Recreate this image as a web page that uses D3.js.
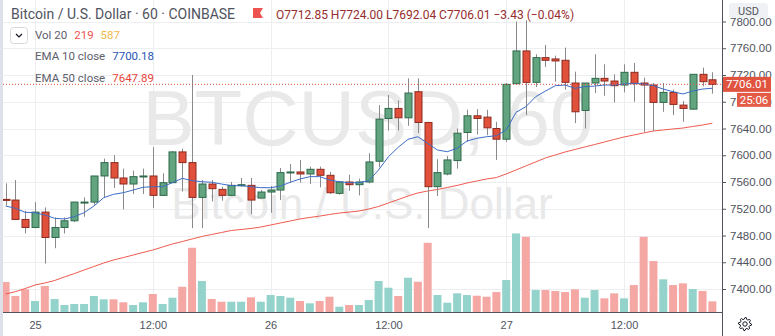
<!DOCTYPE html>
<html>
<head>
<meta charset="utf-8">
<script src="https://cdn.jsdelivr.net/npm/d3@7"></script>
<style>
  body { margin: 0; background: #fff; }
  svg { display: block; font-family: Roboto, "Liberation Sans", sans-serif; }
</style>
</head>
<body>
<svg id="chart" width="775" height="336"></svg>
<script>
// BTCUSD 60 min candles, Coinbase — 24 Nov 21:00 .. 27 Nov 21:00 (UTC)
const firstCandle = Date.UTC(2019, 10, 24, 21);

const open = [7534, 7533, 7504, 7492, 7515, 7477, 7492, 7502, 7529, 7530,
  7569, 7589, 7566, 7557, 7568, 7569, 7540, 7559, 7605, 7589,
  7537, 7557, 7549, 7540, 7555, 7555, 7536, 7545, 7548, 7574,
  7575, 7572, 7579, 7570, 7543, 7560, 7556, 7560, 7591, 7655,
  7670, 7656, 7695, 7649, 7553, 7572, 7592, 7634, 7659, 7657,
  7640, 7624, 7707, 7756, 7709, 7746, 7744, 7742, 7708, 7667,
  7708, 7715, 7711, 7705, 7724, 7708, 7705, 7679, 7694, 7675,
  7669, 7721, 7712.85];
const high = [7558, 7563, 7517, 7530, 7522, 7507, 7507, 7530, 7537, 7569,
  7595, 7600, 7580, 7577, 7580, 7612, 7573, 7606, 7610, 7720,
  7563, 7563, 7553, 7560, 7566, 7566, 7548, 7554, 7581, 7587,
  7593, 7583, 7583, 7575, 7561, 7571, 7565, 7603, 7675, 7690,
  7682, 7715, 7715, 7650, 7594, 7599, 7640, 7668, 7669, 7668,
  7650, 7708, 7800, 7802, 7751, 7765, 7749, 7761, 7725, 7708,
  7751, 7736, 7721, 7736, 7738, 7716, 7708, 7708, 7698, 7681,
  7721, 7731, 7724];
const low = [7525, 7503, 7483, 7491, 7438, 7461, 7483, 7500, 7508, 7526,
  7537, 7551, 7519, 7542, 7542, 7521, 7539, 7559, 7546, 7491,
  7491, 7531, 7532, 7539, 7553, 7512, 7536, 7514, 7533, 7559,
  7559, 7557, 7552, 7542, 7541, 7547, 7540, 7558, 7582, 7637,
  7637, 7644, 7633, 7491, 7539, 7570, 7580, 7620, 7631, 7630,
  7593, 7620, 7706, 7660, 7702, 7732, 7710, 7698, 7648, 7640,
  7693, 7689, 7679, 7694, 7680, 7635, 7636, 7665, 7660, 7650,
  7668, 7703, 7692.04];
const close = [7533, 7504, 7492, 7515, 7477, 7492, 7502, 7530, 7530, 7569,
  7589, 7566, 7557, 7568, 7569, 7540, 7559, 7605, 7589, 7537,
  7557, 7550, 7540, 7555, 7556, 7533, 7545, 7548, 7574, 7575,
  7572, 7579, 7570, 7544, 7560, 7556, 7560, 7590, 7654, 7670,
  7656, 7693, 7649, 7553, 7574, 7593, 7633, 7659, 7655, 7641,
  7624, 7706, 7756, 7709, 7746, 7742, 7741, 7709, 7665, 7708,
  7715, 7711, 7704, 7724, 7707, 7705, 7679, 7694, 7676, 7670,
  7721, 7710, 7706.01];
const volume = [618, 330, 468, 227, 536, 268, 144, 165, 165, 330,
  262, 262, 200, 144, 200, 371, 165, 295, 521, 1325,
  639, 268, 212, 212, 212, 303, 212, 350, 330, 295,
  227, 179, 227, 315, 109, 144, 144, 247, 639, 501,
  330, 707, 624, 1428, 350, 192, 385, 350, 336, 315,
  412, 659, 1621, 1551, 453, 453, 433, 412, 468, 295,
  453, 282, 385, 282, 556, 1551, 1051, 674, 556, 591,
  474, 433, 219];
const ema10 = [7524.1, 7520.7, 7514.7, 7514.1, 7510.7, 7505.7, 7504.7, 7508.1, 7514.1, 7524.1,
  7536.5, 7541.6, 7544.0, 7548.0, 7552.1, 7553.0, 7553.0, 7559.0, 7565.5, 7562.0,
  7560.4, 7559.6, 7557.0, 7554.5, 7554.5, 7553.0, 7551.5, 7551.5, 7554.0, 7559.6,
  7564.5, 7568.0, 7568.0, 7563.0, 7560.4, 7559.0, 7559.0, 7562.0, 7578.0, 7597.8,
  7611.9, 7623.9, 7627.7, 7617.9, 7607.8, 7605.3, 7610.4, 7621.3, 7625.3, 7627.7,
  7629.2, 7637.8, 7664.2, 7672.6, 7687.5, 7696.0, 7704.0, 7705.0, 7700.1, 7702.5,
  7703.5, 7705.0, 7705.0, 7706.5, 7707.6, 7706.5, 7704.0, 7699.0, 7695.0, 7691.6,
  7696.0, 7699.0, 7700.18];
const ema50 = [7392.5, 7396.0, 7400.7, 7406.0, 7409.0, 7412.7, 7418.0, 7423.0, 7428.4, 7433.6,
  7438.9, 7443.4, 7447.0, 7450.8, 7454.6, 7458.3, 7462.8, 7467.3, 7471.0, 7474.8,
  7478.5, 7481.5, 7484.5, 7487.5, 7489.0, 7490.5, 7492.7, 7495.7, 7498.7, 7501.7,
  7504.7, 7507.0, 7509.0, 7511.4, 7513.6, 7515.0, 7516.6, 7519.6, 7523.4, 7528.6,
  7533.8, 7539.0, 7543.6, 7546.5, 7548.8, 7551.8, 7554.8, 7558.5, 7561.5, 7564.5,
  7566.7, 7572.0, 7578.0, 7584.0, 7590.0, 7596.0, 7600.4, 7604.9, 7608.6, 7612.3,
  7616.0, 7619.8, 7623.6, 7627.3, 7630.3, 7633.3, 7636.3, 7637.8, 7639.3, 7640.7,
  7643.0, 7645.2, 7647.89];

const priceTicks = [7400, 7440, 7480, 7520, 7560, 7600, 7640, 7680, 7720, 7760, 7800];
const lastPrice = 7706.01;
const countdown = "25:06";
const volLast = 219, volMa = 587;

const candles = open.map((o, i) => ({
  t: new Date(firstCandle + i * 3600e3),
  o, h: high[i], l: low[i], c: close[i], v: volume[i],
  e10: ema10[i], e50: ema50[i],
  up: close[i] >= open[i]
}));

const plotW = 722, plotH = 312;
const svg = d3.select("#chart");

const x = d3.scaleUtc()
  .domain([Date.UTC(2019, 10, 25, 0), Date.UTC(2019, 10, 27, 12)])
  .range([35, 624]);
const y = d3.scaleLinear().domain([7400, 7800]).range([289, 21.5]);
const yVol = d3.scaleLinear().domain([0, 1650]).range([plotH, 232]);

const timeTicks = x.ticks(d3.utcHour.every(12)).filter(d => x(d) > 0 && x(d) < plotW);

svg.append("defs").append("clipPath").attr("id", "plot")
  .append("rect").attr("width", plotW).attr("height", plotH);

// grid
const grid = svg.append("g").attr("stroke", "#eceef2").attr("stroke-width", 1);
grid.selectAll(".h").data(priceTicks).join("line")
  .attr("x1", 0).attr("x2", plotW)
  .attr("y1", d => Math.round(y(d)) + 0.5).attr("y2", d => Math.round(y(d)) + 0.5);
grid.selectAll(".v").data(timeTicks).join("line")
  .attr("y1", 0).attr("y2", plotH)
  .attr("x1", d => Math.round(x(d)) + 0.5).attr("x2", d => Math.round(x(d)) + 0.5);

// watermark
const wm = svg.append("g").attr("fill", "#e9e9ea")
  .attr("font-family", "'Liberation Sans', Arial, sans-serif").attr("text-anchor", "middle");
wm.append("text").attr("x", 368).attr("y", 145).attr("font-size", 78).text("BTCUSD, 60");
wm.append("text").attr("x", 362).attr("y", 219).attr("font-size", 44).text("Bitcoin / U.S. Dollar");

const plot = svg.append("g").attr("clip-path", "url(#plot)");

// volume
plot.append("g").selectAll("rect").data(candles).join("rect")
  .attr("x", d => x(d.t) - 4).attr("width", 8)
  .attr("y", d => yVol(d.v)).attr("height", d => plotH - yVol(d.v))
  .attr("fill", d => d.up ? "#93d3cb" : "#f5a7a4");

// EMAs
const line = key => d3.line().x(d => x(d.t)).y(d => y(d[key]));
plot.append("path").datum(candles).attr("fill", "none")
  .attr("stroke", "#ef5a4f").attr("stroke-width", 1).attr("d", line("e50"));

// candles
const cg = plot.append("g").selectAll("g").data(candles).join("g");
cg.append("line")
  .attr("x1", d => Math.round(x(d.t)) + 0.5).attr("x2", d => Math.round(x(d.t)) + 0.5)
  .attr("y1", d => y(d.h)).attr("y2", d => y(d.l))
  .attr("stroke", "#8a8a8c");
cg.append("rect")
  .attr("x", d => Math.round(x(d.t)) - 3).attr("width", 7)
  .attr("y", d => y(Math.max(d.o, d.c)))
  .attr("height", d => Math.max(1, Math.abs(y(d.o) - y(d.c))))
  .attr("fill", d => d.up ? "#62a47f" : "#e0503b")
  .attr("stroke", d => d.up ? "#2e6a4b" : "#8e2b20").attr("stroke-width", 1);

plot.append("path").datum(candles).attr("fill", "none")
  .attr("stroke", "#3d6cc6").attr("stroke-width", 1).attr("d", line("e10"));

// last price line
plot.append("line").attr("x1", 0).attr("x2", plotW)
  .attr("y1", y(lastPrice)).attr("y2", y(lastPrice))
  .attr("stroke", "#e0533f").attr("stroke-dasharray", "1,2");

// frame lines
svg.append("line").attr("x1", 0).attr("x2", plotW).attr("y1", plotH + 0.5).attr("y2", plotH + 0.5)
  .attr("stroke", "#50535e");
svg.append("line").attr("x1", plotW + 0.5).attr("x2", plotW + 0.5).attr("y1", 0).attr("y2", 336)
  .attr("stroke", "#50535e");
svg.append("rect").attr("x", 0).attr("y", 0).attr("width", 3).attr("height", 336).attr("fill", "#dfe1ea");

// right price axis
const yAxis = svg.append("g").attr("transform", `translate(${plotW},0)`)
  .call(d3.axisRight(y).tickValues(priceTicks).tickFormat(d3.format(".2f")).tickSize(4).tickPadding(4));
yAxis.select(".domain").remove();
yAxis.selectAll("line").attr("stroke", "#50535e");
yAxis.selectAll("text").attr("font-size", 11.5).attr("fill", "#50535e").attr("font-family", null);

// time axis
const xAxis = svg.append("g").attr("transform", `translate(0,${plotH})`)
  .call(d3.axisBottom(x).tickValues(timeTicks).tickSize(0).tickPadding(9)
    .tickFormat(d => d.getUTCHours() === 0 ? d3.utcFormat("%-d")(d) : d3.utcFormat("%H:%M")(d)));
xAxis.select(".domain").remove();
xAxis.selectAll("text").attr("font-size", 11).attr("fill", "#50535e").attr("font-family", null);

// USD badge
svg.append("rect").attr("x", 729).attr("y", 3).attr("width", 39).attr("height", 15).attr("rx", 3)
  .attr("fill", "#f0f1f4");
svg.append("text").attr("x", 748.5).attr("y", 14.5).attr("text-anchor", "middle")
  .attr("font-size", 11).attr("fill", "#50535e").text("USD");

// last price badges
const ly = y(lastPrice);
svg.append("rect").attr("x", 723).attr("y", ly - 7.5).attr("width", 48).attr("height", 15)
  .attr("fill", "#e0533f");
svg.append("text").attr("x", 747).attr("y", ly + 4).attr("text-anchor", "middle")
  .attr("font-size", 11.5).attr("fill", "#fff").text(d3.format(".2f")(lastPrice));
svg.append("rect").attr("x", 737).attr("y", ly + 8.5).attr("width", 34).attr("height", 14)
  .attr("fill", "#e45c48");
svg.append("text").attr("x", 754).attr("y", ly + 19.5).attr("text-anchor", "middle")
  .attr("font-size", 11.5).attr("fill", "#fff").text(countdown);

// settings gear
const gear = svg.append("g").attr("transform", "translate(745,324)")
  .attr("fill", "none").attr("stroke", "#131722").attr("stroke-width", 1);
const gearPts = d3.range(32).map(k => [k / 32 * 2 * Math.PI, (k % 4 < 2) ? 6.5 : 4.8]);
gear.append("path").attr("d", d3.lineRadial().curve(d3.curveLinearClosed)(gearPts));
gear.append("circle").attr("r", 2.2);

// header legend
const last = candles[candles.length - 1];
const hdr = svg.append("text").attr("x", 11).attr("y", 18.5).attr("font-size", 14).attr("fill", "#50535e")
  .text("Bitcoin / U.S. Dollar · 60 · COINBASE");
svg.append("path").attr("d", "M253,8H263L260,13L263,18H253Z").attr("fill", "#ef5350");
const fmt = d3.format(".2f");
const chg = last.c - close[close.length - 2] + 0; // unused for display precision
svg.append("text").attr("x", 276).attr("y", 18.5).attr("font-size", 12).attr("fill", "#962d2d")
  .text(`O${fmt(last.o)} H${fmt(last.h)} L${fmt(last.l)} C${fmt(last.c)} −3.43 (−0.04%)`);

svg.append("rect").attr("x", 10.5).attr("y", 27.5).attr("width", 17).attr("height", 16).attr("rx", 3)
  .attr("fill", "#fff").attr("stroke", "#d6d8de");
svg.append("path").attr("d", "M16,34L19,37L22,34").attr("fill", "none").attr("stroke", "#131722").attr("stroke-width", 1.2);

const leg = [
  { y: 38.5, label: "Vol 20", vals: [[String(volLast), "#ef5350"], [String(volMa), "#f2b84b"]] },
  { y: 59.5, label: "EMA 10 close", vals: [[fmt(last.e10), "#2756b3"]] },
  { y: 81.5, label: "EMA 50 close", vals: [[fmt(last.e50), "#e8453c"]] }
];
leg.forEach(r => {
  const t = svg.append("text").attr("x", 35).attr("y", r.y).attr("font-size", 11.5).attr("fill", "#5d606b");
  t.append("tspan").text(r.label);
  r.vals.forEach(([v, c]) => t.append("tspan").attr("dx", 7).attr("fill", c).text(v));
});
</script>
</body>
</html>
